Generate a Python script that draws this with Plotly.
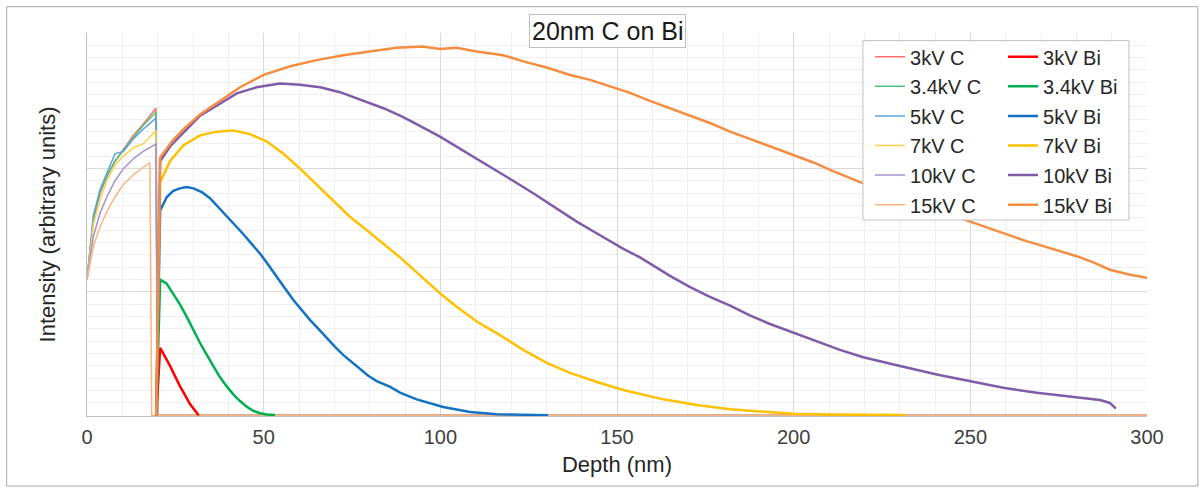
import plotly.graph_objects as go

# ---------------- data ----------------
# Carbon layer signals (0 - ~20 nm), zero beyond
x_c = [0, 1.8, 3.7, 5.6, 7.9, 10.3, 13.1, 15.9, 19.5, 20.0, 300]
y_3kv_c = [1.10, 1.58, 1.80, 1.93, 2.06, 2.16, 2.27, 2.36, 2.49, 0, 0]
y_34kv_c = [1.10, 1.60, 1.81, 1.94, 2.06, 2.15, 2.25, 2.35, 2.46, 0, 0]
y_5kv_c = [1.10, 1.62, 1.83, 1.96, 2.12, 2.14, 2.24, 2.32, 2.41, 0, 0]
y_7kv_c = [1.10, 1.55, 1.75, 1.90, 2.03, 2.10, 2.17, 2.20, 2.31, 0, 0]
y_10kv_c = [1.10, 1.45, 1.64, 1.77, 1.90, 2.00, 2.08, 2.14, 2.20, 0, 0]
x_15kv_c = [0, 1.8, 3.7, 5.6, 7.9, 10.3, 13.1, 15.9, 17.8, 18.3, 300]
y_15kv_c = [1.10, 1.37, 1.53, 1.65, 1.77, 1.87, 1.95, 2.01, 2.05, 0, 0]

# Bismuth substrate signals
x_3kv_bi = [19.6, 20.7, 23.5, 26.3, 29.2, 31.0, 31.6]
y_3kv_bi = [0, 0.546, 0.40, 0.236, 0.089, 0.02, 0.0]

x_34kv_bi = [19.6, 20.7, 22.5, 24.4, 26.3, 28.2, 30.1, 32.0, 33.9, 35.8, 37.6,
             39.5, 41.4, 43.3, 45.2, 47.1, 49.0, 50.9, 53.2]
y_34kv_bi = [0, 1.10, 1.07, 0.99, 0.90, 0.80, 0.69, 0.586, 0.49, 0.40, 0.31,
             0.236, 0.17, 0.115, 0.07, 0.035, 0.016, 0.006, 0.002]

x_5kv_bi = [19.6, 20.7, 22.6, 24.4, 26.3, 28.2, 30.1, 32.5, 34.8, 37.1, 39.5,
            41.9, 44.2, 46.6, 49.0, 51.3, 53.7, 56.0, 58.4, 60.8, 63.1, 65.5,
            67.8, 70.2, 72.5, 74.9, 77.3, 79.6, 82.0, 85.8, 88.6, 93.3, 100.8,
            108.4, 116.0, 123.0, 130.5]
y_5kv_bi = [0, 1.66, 1.77, 1.82, 1.84, 1.85, 1.84, 1.81, 1.76, 1.69, 1.61,
            1.54, 1.47, 1.39, 1.31, 1.22, 1.12, 1.03, 0.935, 0.85, 0.774, 0.70,
            0.627, 0.555, 0.49, 0.43, 0.37, 0.32, 0.277, 0.23, 0.183, 0.129, 0.067,
            0.027, 0.008, 0.003, 0.001]

x_7kv_bi = [19.6, 20.7, 23.5, 27.3, 32.0, 36.7, 41.4, 46.1, 50.9, 55.6, 60.3,
            65.0, 69.7, 74.4, 79.2, 83.9, 88.6, 95.2, 99.9, 104.6, 110.3, 116.9,
            123.5, 130.1, 136.7, 144.3, 151.8, 163.1, 172.6, 182.0, 191.4, 199.9,
            210.0, 220.0, 231.5]
y_7kv_bi = [0, 1.89, 2.06, 2.19, 2.27, 2.30, 2.31, 2.28, 2.22, 2.12, 2.00,
            1.87, 1.74, 1.61, 1.50, 1.39, 1.28, 1.11, 0.99, 0.88, 0.76, 0.65,
            0.53, 0.425, 0.344, 0.27, 0.205, 0.129, 0.083, 0.048, 0.027, 0.012,
            0.006, 0.004, 0.002]

x_10kv_bi = [19.6, 20.7, 23.5, 27.3, 32.0, 36.7, 42.4, 48.0, 54.6, 60.3, 66.0,
             71.6, 77.3, 83.9, 88.6, 91.4, 99.9, 104.6, 110.3, 117.8, 120.7,
             126.3, 132.9, 138.6, 145.2, 151.8, 156.5, 159.3, 165.0, 170.7,
             176.3, 182.0, 187.6, 193.3, 199.9, 206.5, 213.1, 219.7, 224.4,
             230.1, 240.5, 249.9, 259.3, 268.8, 278.2, 286.7, 289.5, 291.2]
y_10kv_bi = [0, 2.06, 2.18, 2.29, 2.43, 2.51, 2.61, 2.66, 2.69, 2.68, 2.66,
             2.62, 2.56, 2.49, 2.43, 2.39, 2.26, 2.18, 2.08, 1.95, 1.90,
             1.80, 1.68, 1.57, 1.46, 1.35, 1.28, 1.23, 1.13, 1.04,
             0.96, 0.89, 0.81, 0.74, 0.67, 0.60, 0.53, 0.47, 0.44,
             0.40, 0.33, 0.277, 0.223, 0.183, 0.15, 0.123, 0.10, 0.054]

x_15kv_bi = [19.6, 20.7, 24.0, 27.3, 32.0, 36.7, 43.3, 50.0, 57.5, 65.0, 72.5,
             80.0, 87.6, 95.0, 99.9, 104.6, 110.3, 117.8, 123.5, 130.1, 136.7,
             142.4, 148.0, 153.7, 159.3, 165.0, 170.7, 176.3, 182.0, 186.7,
             191.4, 197.1, 200.9, 205.6, 210.3, 218.8, 225.0, 232.0, 240.0,
             246.0, 250.8, 255.6, 260.3, 265.0, 269.7, 274.4, 280.1, 284.8,
             289.5, 295.2, 300.0]
y_15kv_bi = [0, 2.09, 2.22, 2.32, 2.44, 2.53, 2.66, 2.76, 2.83, 2.88, 2.92,
             2.95, 2.98, 2.99, 2.97, 2.98, 2.95, 2.92, 2.87, 2.82, 2.76,
             2.72, 2.67, 2.615, 2.55, 2.49, 2.43, 2.37, 2.30, 2.25,
             2.20, 2.14, 2.10, 2.05, 1.99, 1.89, 1.83, 1.75, 1.67,
             1.61, 1.567, 1.52, 1.47, 1.42, 1.38, 1.34, 1.29, 1.24,
             1.18, 1.14, 1.115]

x_ticks = [0, 50, 100, 150, 200, 250, 300]

c_series = [
    ("3kV C", x_c, y_3kv_c, "#FF6F6F"),
    ("3.4kV C", x_c, y_34kv_c, "#4DC47E"),
    ("5kV C", x_c, y_5kv_c, "#5FA2DC"),
    ("7kV C", x_c, y_7kv_c, "#FFD04A"),
    ("10kV C", x_c, y_10kv_c, "#A590CC"),
    ("15kV C", x_15kv_c, y_15kv_c, "#F9B482"),
]
bi_series = [
    ("3kV Bi", x_3kv_bi, y_3kv_bi, "#FF0000"),
    ("3.4kV Bi", x_34kv_bi, y_34kv_bi, "#00B050"),
    ("5kV Bi", x_5kv_bi, y_5kv_bi, "#1472C4"),
    ("7kV Bi", x_7kv_bi, y_7kv_bi, "#FFC000"),
    ("10kV Bi", x_10kv_bi, y_10kv_bi, "#7E5CA8"),
    ("15kV Bi", x_15kv_bi, y_15kv_bi, "#F58C40"),
]

fig = go.Figure()
for name, xs, ys, col in c_series:
    fig.add_trace(go.Scatter(x=xs, y=ys, mode="lines", name=name,
                             line=dict(color=col, width=1.5),
                             legend="legend", legendgroup=name))
for name, xs, ys, col in bi_series:
    fig.add_trace(go.Scatter(x=xs, y=ys, mode="lines", name=name,
                             line=dict(color=col, width=2.5),
                             legend="legend2", legendgroup=name))

FONT = "Liberation Sans, Arial, Helvetica, sans-serif"
legend_common = dict(xanchor="left", yanchor="top", bgcolor="rgba(0,0,0,0)",
                     borderwidth=0, font=dict(size=20, color="#262626", family=FONT),
                     tracegroupgap=0.6, traceorder="grouped", itemwidth=30)

fig.update_layout(
    width=1203, height=491,
    margin=dict(l=87, r=56, t=33, b=75),
    paper_bgcolor="white", plot_bgcolor="white",
    font=dict(family=FONT, color="#404040"),
    showlegend=True,
    xaxis=dict(range=[0, 300], tickmode="array", tickvals=x_ticks,
               showgrid=True, gridcolor="#D9D9D9", gridwidth=1,
               minor=dict(tickmode="linear", tick0=0, dtick=10, showgrid=True,
                          gridcolor="#EFEFEF", gridwidth=1),
               showline=True, linecolor="#BFBFBF", zeroline=False, ticks="",
               layer="below traces",
               tickfont=dict(size=20, color="#404040"), ticklabelstandoff=3,
               title=dict(text="Depth (nm)", font=dict(size=22, color="#262626"),
                          standoff=9)),
    yaxis=dict(range=[-0.006, 3.1], tickmode="array", tickvals=[0, 1, 2],
               showticklabels=False, showgrid=True, gridcolor="#D9D9D9", gridwidth=1,
               minor=dict(tickmode="linear", tick0=0, dtick=0.1, showgrid=True,
                          gridcolor="#EFEFEF", gridwidth=1),
               showline=True, linecolor="#BFBFBF", zeroline=False, ticks="",
               layer="below traces",
               title=dict(text="Intensity (arbitrary units)",
                          font=dict(size=22, color="#262626"), standoff=24)),
    legend=dict(x=0.7387, y=0.989, **legend_common),
    legend2=dict(x=0.8642, y=0.989, **legend_common),
    shapes=[
        # outer chart frame
        dict(type="rect", xref="paper", yref="paper",
             x0=-0.0758, x1=1.048, y0=-0.1828, y1=1.0687,
             line=dict(color="#A6A6A6", width=1), fillcolor="rgba(0,0,0,0)",
             layer="below"),
        # legend box
        dict(type="rect", xref="paper", yref="paper",
             x0=0.732, x1=0.983, y0=0.5117, y1=0.98,
             line=dict(color="#BFBFBF", width=1), fillcolor="white",
             layer="above"),
    ],
    annotations=[
        dict(text="20nm C on Bi", xref="paper", yref="paper", x=0.491, y=1.004,
             xanchor="center", yanchor="middle", showarrow=False,
             font=dict(size=25, color="#1A1A1A", family=FONT),
             bgcolor="white", bordercolor="#BFBFBF", borderwidth=1, borderpad=2),
    ],
)

fig.write_html("out.html")
